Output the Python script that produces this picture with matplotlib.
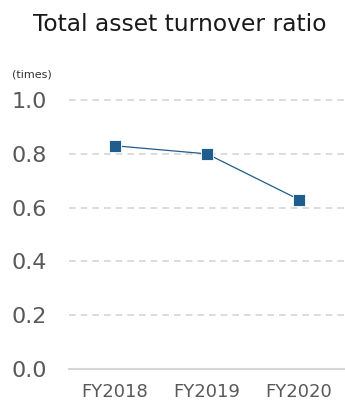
import matplotlib
matplotlib.use("Agg")
import matplotlib.pyplot as plt

years = ['FY2018', 'FY2019', 'FY2020']
ratio = [0.83, 0.80, 0.63]
yticks = [0.0, 0.2, 0.4, 0.6, 0.8, 1.0]

fig = plt.figure(figsize=(3.45, 4.05), dpi=100)
ax = fig.add_axes([0.2, 0.0889, 0.8, 0.664])

x = range(len(years))
ax.plot(x, ratio, color='#1f5d8c', lw=0.9, marker='s', ms=8.5,
        markerfacecolor='#1f5d8c', markeredgecolor='white', markeredgewidth=0.6,
        zorder=3)

ax.set_xlim(-0.5, 2.5)
ax.set_ylim(0, 1.0)
ax.set_xticks(list(x))
ax.set_xticklabels(years)
ax.set_yticks(yticks)
ax.set_yticklabels(['%.1f' % v for v in yticks])

# grid lines
for v in yticks[1:]:
    ax.axhline(v, color='#d6d6d6', lw=1.2, ls=(0, (4, 3)), clip_on=False, zorder=1)
ax.axhline(0, color='#d6d6d6', lw=1.5, clip_on=False, zorder=1)

for s in ax.spines.values():
    s.set_visible(False)
ax.tick_params(axis='y', length=0, pad=16, labelsize=16, labelcolor='#595959')
ax.tick_params(axis='x', length=0, pad=10, labelsize=13, labelcolor='#595959')

fig.text(0.522, 0.94, 'Total asset turnover ratio', ha='center', va='center',
         fontsize=16.8, color='#1a1a1a')
fig.text(0.035, 0.815, '(times)', ha='left', va='center', fontsize=8,
         color='#333333')

fig.savefig('out.png', dpi=100)
